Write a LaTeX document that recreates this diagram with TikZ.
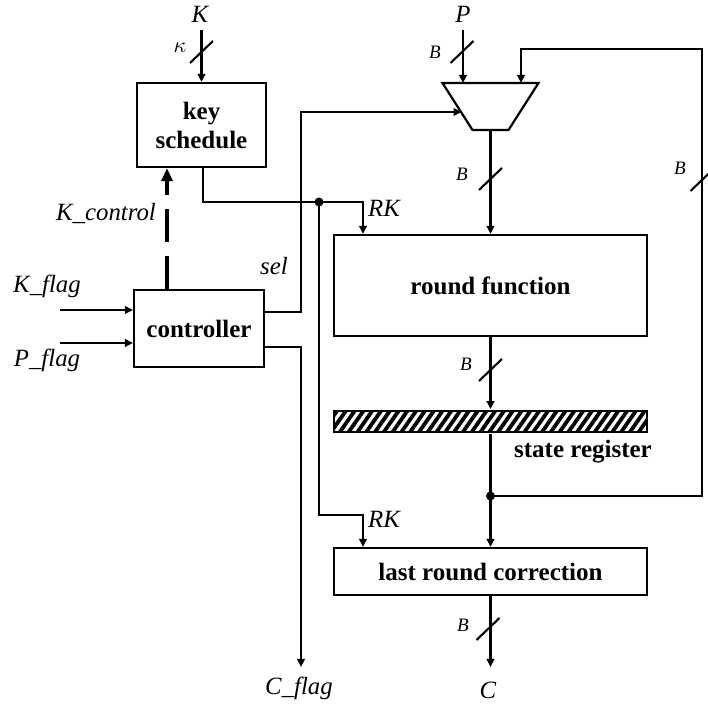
\documentclass[tikz,border=0pt]{standalone}
\usepackage{fontspec}
\setmainfont{Liberation Serif}
\usetikzlibrary{arrows.meta,patterns.meta}

\tikzset{
  wire/.style={line width=1.05pt},
  arr/.style={wire,-{Triangle[length=4pt,width=3.8pt]}},
  block/.style={draw,line width=1.1pt,inner sep=0pt,font=\fontsize{12.5}{14.5}\selectfont\bfseries,align=center},
  lab/.style={inner sep=0pt,font=\fontsize{12.4}{14}\selectfont\itshape},
  buslab/.style={inner sep=0pt,font=\fontsize{9.5}{11}\selectfont\itshape},
  busmark/.pic={\draw[wire] (-5.75pt,-5.5pt) -- (5.75pt,5.5pt);},
  jdot/.style={circle,fill,inner sep=0pt,minimum size=4.5pt}
}

\begin{document}
\begin{tikzpicture}[x=0.5pt,y=-0.5pt]
\useasboundingbox (0,0) rectangle (708,704);

% blocks
\node[block,minimum width=64.5pt,minimum height=42pt] (ks) at (201.5,125) {key\\schedule};
\node[block,minimum width=65pt,minimum height=38.5pt] (ctrl) at (199,328.5) {controller};
\node[block,minimum width=156.5pt,minimum height=50.5pt] (rf) at (490.5,285.5) {round function};
\node[draw,line width=1.1pt,inner sep=0pt,minimum width=156.5pt,minimum height=10.5pt,
      pattern={Lines[angle=55,distance=3.6pt,line width=1.9pt]}] (sr) at (490.5,421.5) {};
\node[block,minimum width=156.5pt,minimum height=23.5pt] (lrc) at (490.5,571.5) {last round correction};

% multiplexer
\coordinate (mtl) at (442.5,83);
\coordinate (mtr) at (538.5,83);
\coordinate (mbr) at (508.5,130);
\coordinate (mbl) at (472.5,130);
\draw[line width=1.1pt] (mtl) -- (mtr) -- (mbr) -- (mbl) -- cycle;
\coordinate (mP) at (463,83);
\coordinate (mfb) at (521,83);
\coordinate (msel) at (461.5,112);
\coordinate (mout) at (490.5,130);

% external labels
\node[lab] (K) at (200,14) {K};
\node[lab] (P) at (463,14) {P};
\node[lab] (Kf) at (47,286) {K\_flag};
\node[lab] (Pf) at (47,360) {P\_flag};
\node[lab] (sel) at (274,266) {sel};
\node[lab] (Kc) at (106,214) {K\_control};
\node[lab] (Cf) at (299,688) {C\_flag};
\node[lab] (C) at (488,690) {C};
\node[lab] (rk1) at (384,208) {RK};
\node[lab] (rk2) at (384,519) {RK};
\node[inner sep=0pt,font=\fontsize{12.5}{14}\selectfont\bfseries] (srl) at (583,452) {state register};

% key input
\coordinate (kin) at (201.5,30);
\draw[arr] (kin) -- (ks.north);
\pic at (201.5,52) {busmark};
\node[inner sep=0pt,font=\fontsize{10.5}{12}\selectfont] (kap) at (180,48) {$\kappa$};

% plaintext input
\coordinate (pin) at (463,30);
\draw[arr] (pin) -- (mP);
\pic at (462,52) {busmark};
\node[buslab] (bP) at (435,52) {B};

% multiplexer output
\draw[arr] (mout) -- (rf.north);
\pic at (490.5,179) {busmark};
\node[buslab] (bM) at (462,174) {B};

% round key
\coordinate (ks1) at (ks.south -| 203,0);
\coordinate (rkj) at (319,202);
\coordinate (rkr) at (rf.north -| 363,0);
\coordinate (rkl) at (lrc.north -| 363,0);
\draw[arr] (ks1) |- (rkj) -| (rkr);
\draw[arr] (rkj) -- (319,515) -| (rkl);
\node[jdot] at (rkj) {};

% control lines
\coordinate (cs) at (ctrl.east |- 0,312);
\coordinate (cc) at (ctrl.east |- 0,347);
\coordinate (cfe) at (301,667);
\draw[arr] (cs) -- (301,312) |- (msel);
\draw[arr] (cc) -- (301,347) -- (cfe);
\coordinate (kfs) at (60,310);
\coordinate (pfs) at (60,343);
\draw[arr] (kfs) -- (ctrl.west |- kfs);
\draw[arr] (pfs) -- (ctrl.west |- pfs);
\coordinate (kc0) at (ctrl.north -| 167,0);
\coordinate (kc1) at (ks.south -| 167,0);
\draw[line width=1.7pt,dash pattern=on 16.5pt off 7pt,-{Triangle[length=6.5pt,width=5.5pt]}] (kc0) -- (kc1);

% round function to state register
\draw[arr] (rf.south) -- (sr.north);
\pic at (490.5,370) {busmark};
\node[buslab] (bR) at (466,364) {B};

% state register to last round correction, feedback to the multiplexer
\coordinate (fbj) at (490.5,496);
\draw[arr] (sr.south) -- (lrc.north);
\draw[arr] (fbj) -- (702,496) -- (702,49) -| (mfb);
\node[jdot] at (fbj) {};
\pic at (702,180) {busmark};
\node[buslab] (bF) at (680,168) {B};

% ciphertext output
\coordinate (cout) at (490.5,667);
\draw[arr] (lrc.south) -- (cout);
\pic at (488,629) {busmark};
\node[buslab] (bC) at (463,625) {B};
\end{tikzpicture}
\end{document}
